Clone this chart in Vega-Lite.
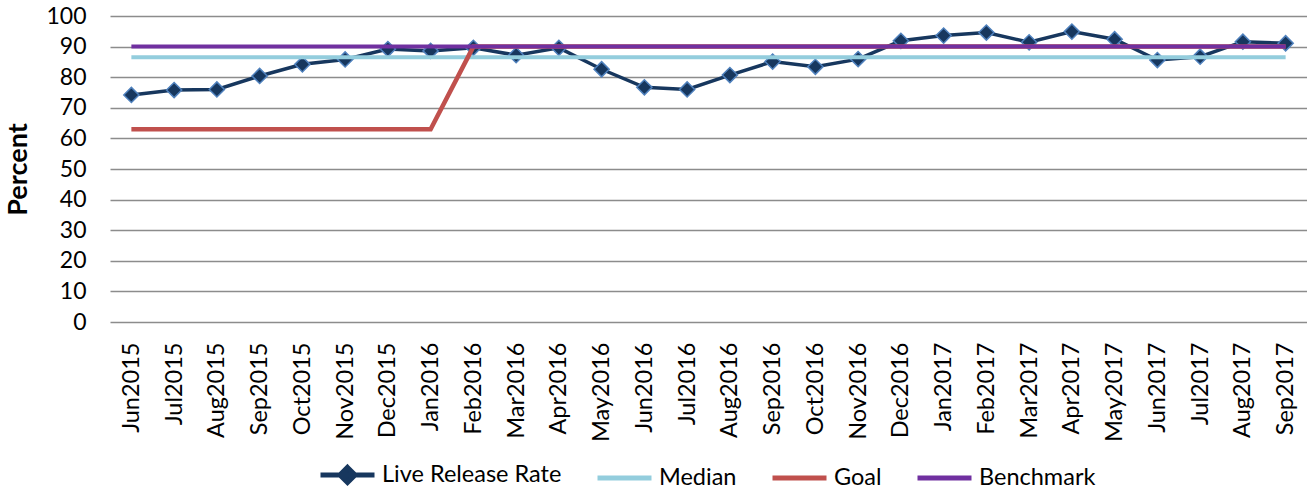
{
  "$schema": "https://vega.github.io/schema/vega-lite/v6.json",
  "width": 1197,
  "height": 306,
  "autosize": {"type": "none"},
  "padding": {"left": 110, "top": 16, "right": 0, "bottom": 169},
  "background": "white",
  "config": {
    "font": "Lato",
    "view": {"stroke": null}
  },
  "data": {
    "values": [
      {"Month": "Jun2015", "Live Release Rate": 74.2, "Median": 86.5, "Goal": 63, "Benchmark": 90},
      {"Month": "Jul2015", "Live Release Rate": 75.8, "Median": 86.5, "Goal": 63, "Benchmark": 90},
      {"Month": "Aug2015", "Live Release Rate": 76.0, "Median": 86.5, "Goal": 63, "Benchmark": 90},
      {"Month": "Sep2015", "Live Release Rate": 80.4, "Median": 86.5, "Goal": 63, "Benchmark": 90},
      {"Month": "Oct2015", "Live Release Rate": 84.2, "Median": 86.5, "Goal": 63, "Benchmark": 90},
      {"Month": "Nov2015", "Live Release Rate": 85.8, "Median": 86.5, "Goal": 63, "Benchmark": 90},
      {"Month": "Dec2015", "Live Release Rate": 89.2, "Median": 86.5, "Goal": 63, "Benchmark": 90},
      {"Month": "Jan2016", "Live Release Rate": 88.6, "Median": 86.5, "Goal": 63, "Benchmark": 90},
      {"Month": "Feb2016", "Live Release Rate": 89.6, "Median": 86.5, "Goal": 90, "Benchmark": 90},
      {"Month": "Mar2016", "Live Release Rate": 87.2, "Median": 86.5, "Goal": 90, "Benchmark": 90},
      {"Month": "Apr2016", "Live Release Rate": 89.6, "Median": 86.5, "Goal": 90, "Benchmark": 90},
      {"Month": "May2016", "Live Release Rate": 82.6, "Median": 86.5, "Goal": 90, "Benchmark": 90},
      {"Month": "Jun2016", "Live Release Rate": 76.7, "Median": 86.5, "Goal": 90, "Benchmark": 90},
      {"Month": "Jul2016", "Live Release Rate": 76.0, "Median": 86.5, "Goal": 90, "Benchmark": 90},
      {"Month": "Aug2016", "Live Release Rate": 80.7, "Median": 86.5, "Goal": 90, "Benchmark": 90},
      {"Month": "Sep2016", "Live Release Rate": 85.1, "Median": 86.5, "Goal": 90, "Benchmark": 90},
      {"Month": "Oct2016", "Live Release Rate": 83.4, "Median": 86.5, "Goal": 90, "Benchmark": 90},
      {"Month": "Nov2016", "Live Release Rate": 85.9, "Median": 86.5, "Goal": 90, "Benchmark": 90},
      {"Month": "Dec2016", "Live Release Rate": 91.9, "Median": 86.5, "Goal": 90, "Benchmark": 90},
      {"Month": "Jan2017", "Live Release Rate": 93.6, "Median": 86.5, "Goal": 90, "Benchmark": 90},
      {"Month": "Feb2017", "Live Release Rate": 94.6, "Median": 86.5, "Goal": 90, "Benchmark": 90},
      {"Month": "Mar2017", "Live Release Rate": 91.4, "Median": 86.5, "Goal": 90, "Benchmark": 90},
      {"Month": "Apr2017", "Live Release Rate": 94.9, "Median": 86.5, "Goal": 90, "Benchmark": 90},
      {"Month": "May2017", "Live Release Rate": 92.4, "Median": 86.5, "Goal": 90, "Benchmark": 90},
      {"Month": "Jun2017", "Live Release Rate": 85.6, "Median": 86.5, "Goal": 90, "Benchmark": 90},
      {"Month": "Jul2017", "Live Release Rate": 86.7, "Median": 86.5, "Goal": 90, "Benchmark": 90},
      {"Month": "Aug2017", "Live Release Rate": 91.6, "Median": 86.5, "Goal": 90, "Benchmark": 90},
      {"Month": "Sep2017", "Live Release Rate": 91.1, "Median": 86.5, "Goal": 90, "Benchmark": 90}
    ]
  },
  "transform": [
    {"fold": ["Live Release Rate", "Median", "Goal", "Benchmark"], "as": ["Series", "Value"]}
  ],
  "encoding": {
    "x": {
      "field": "Month", "type": "nominal", "sort": null,
      "scale": {"paddingInner": 0, "paddingOuter": 0},
      "axis": {
        "title": null, "labelAngle": -90, "labelAlign": "right", "labelBaseline": "middle",
        "labelFontSize": 23.5, "labelColor": "#000000", "labelPadding": 20,
        "ticks": false, "domain": false, "grid": false, "labelFont": "Lato"
      }
    },
    "y": {
      "field": "Value", "type": "quantitative",
      "scale": {"domain": [0, 100], "nice": false, "zero": true},
      "axis": {
        "title": "Percent", "titleFontSize": 27, "titleFontWeight": "bold", "titleColor": "#000000",
        "titlePadding": 13, "titleFont": "Lato",
        "values": [0, 10, 20, 30, 40, 50, 60, 70, 80, 90, 100],
        "labelFontSize": 23, "labelColor": "#000000", "labelPadding": 24, "labelFont": "Lato",
        "ticks": false, "domain": false, "grid": true, "gridColor": "#8c8c8c", "gridWidth": 1.5
      }
    },
    "color": {
      "field": "Series", "type": "nominal",
      "scale": {
        "domain": ["Live Release Rate", "Median", "Goal", "Benchmark"],
        "range": ["#17375E", "#93CDDD", "#C0504D", "#7030A0"]
      },
      "legend": {
        "title": null, "orient": "none", "direction": "horizontal", "columns": 4,
        "legendX": 208, "legendY": 429,
        "symbolType": "stroke", "symbolSize": 2916, "symbolStrokeWidth": 5,
        "labelFontSize": 23.5, "labelColor": "#000000", "labelFont": "Lato", "labelOffset": 5,
        "labelLimit": 400, "columnPadding": 25,
        "encode": {
          "symbols": {
            "update": {
              "shape": {"signal": "datum.value === 'Live Release Rate' ? 'M-1,0H1M0,-0.28L0.28,0L0,0.28L-0.28,0Z' : 'stroke'"},
              "fill": {"signal": "datum.value === 'Live Release Rate' ? '#17375E' : 'transparent'"}
            }
          }
        }
      }
    }
  },
  "layer": [
    {
      "transform": [{"filter": "datum.Series === 'Live Release Rate'"}],
      "mark": {"type": "line", "strokeWidth": 3.5}
    },
    {
      "transform": [{"filter": "datum.Series === 'Live Release Rate'"}],
      "mark": {"type": "point", "shape": "diamond", "size": 230, "filled": true, "fill": "#17375E", "stroke": "#4F81BD", "strokeWidth": 1.5, "opacity": 1},
      "encoding": {"color": {"value": "#17375E"}}
    },
    {
      "transform": [{"filter": "datum.Series === 'Median'"}],
      "mark": {"type": "line", "strokeWidth": 4}
    },
    {
      "transform": [{"filter": "datum.Series === 'Goal'"}],
      "mark": {"type": "line", "strokeWidth": 4.5}
    },
    {
      "transform": [{"filter": "datum.Series === 'Benchmark'"}],
      "mark": {"type": "line", "strokeWidth": 4}
    }
  ]
}
